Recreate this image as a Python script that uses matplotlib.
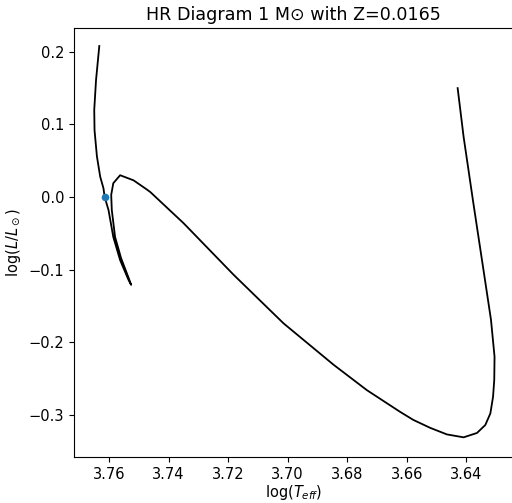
import matplotlib
matplotlib.use("Agg")
import matplotlib.pyplot as plt

# evolutionary track
log_teff = [3.7633, 3.7644, 3.7650, 3.7649, 3.7641, 3.7630, 3.7619, 3.7615,
            3.7602, 3.7586, 3.7563, 3.7535, 3.7526, 3.7534, 3.7560, 3.7580,
            3.7591, 3.7593, 3.7586, 3.7563, 3.7518, 3.7479, 3.7462, 3.7350,
            3.7182, 3.7014, 3.6846, 3.6734, 3.6622, 3.6578, 3.6521, 3.6465,
            3.6409, 3.6364, 3.6336, 3.6319, 3.6310, 3.6306, 3.6305, 3.6317,
            3.6342, 3.6376, 3.6409, 3.6429]
log_l = [0.208, 0.161, 0.120, 0.092, 0.056, 0.028, 0.012, 0.000,
         -0.018, -0.055, -0.087, -0.114, -0.121, -0.112, -0.084, -0.055,
         -0.018, 0.003, 0.019, 0.030, 0.023, 0.012, 0.007, -0.036,
         -0.107, -0.174, -0.231, -0.266, -0.296, -0.307, -0.318, -0.327,
         -0.331, -0.325, -0.314, -0.298, -0.275, -0.252, -0.220, -0.169,
         -0.101, -0.009, 0.083, 0.150]

# present-day sun
sun_teff = [3.7613]
sun_l = [0.0]

fig = plt.figure(figsize=(5.12, 5.03), dpi=100)
ax = fig.add_axes([74 / 512, 46 / 503, 439 / 512, 429 / 503])

ax.plot(log_teff, log_l, color='black', lw=1.3)
ax.plot(sun_teff, sun_l, 'o', color='C0', markersize=4.5)

ax.set_xlim(3.7718, 3.6243)
ax.set_ylim(-0.3581, 0.2328)
ax.set_xticks([3.76, 3.74, 3.72, 3.70, 3.68, 3.66, 3.64])
ax.set_yticks([-0.3, -0.2, -0.1, 0.0, 0.1, 0.2])
ax.tick_params(labelsize=10.5)

ax.set_xlabel(r'log($T_{eff}$)', fontsize=10.5, labelpad=1)
ax.set_ylabel(r'log($L/L_\odot$)', fontsize=10.5)
ax.set_title('HR Diagram 1 M\u2299 with Z=0.0165', fontsize=12.6)

fig.savefig('out.png', dpi=100)
